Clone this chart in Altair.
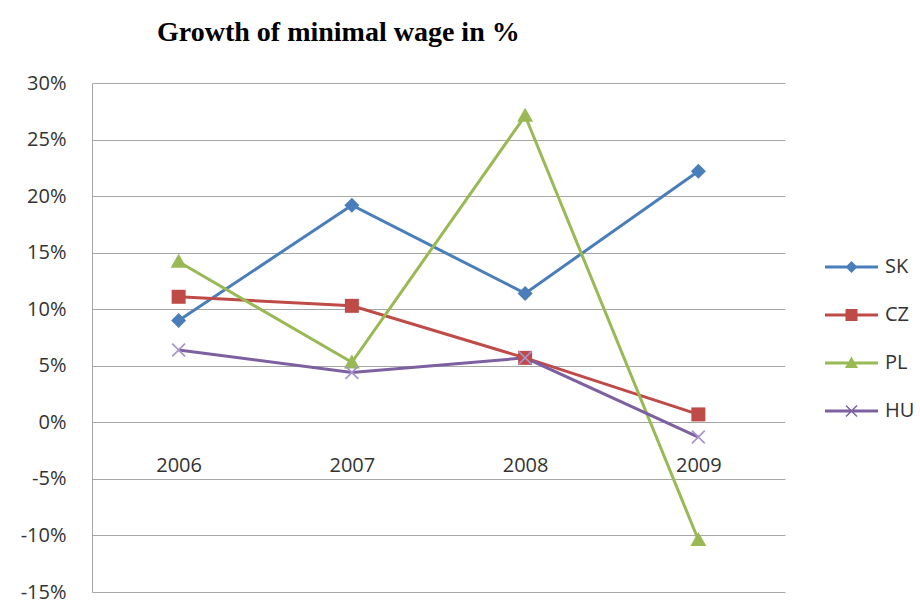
import altair as alt
import pandas as pd

years = ["2006", "2007", "2008", "2009"]
countries = ["SK", "CZ", "PL", "HU"]
sk = [0.090, 0.192, 0.114, 0.222]
cz = [0.111, 0.103, 0.057, 0.007]
pl = [0.142, 0.053, 0.271, -0.104]
hu = [0.064, 0.044, 0.057, -0.013]
y_ticks = [-0.15, -0.10, -0.05, 0.0, 0.05, 0.10, 0.15, 0.20, 0.25, 0.30]

line_colors = ["#4A7EBB", "#BE4B48", "#98B954", "#7D60A0"]
marker_colors = ["#4A7EBB", "#BE4B48", "#98B954", "#A695CC"]

# marker shapes (pixel units, drawn with size=4)
x_shape = "M-7,-5.8L-5.8,-7L0,-1.2L5.8,-7L7,-5.8L1.2,0L7,5.8L5.8,7L0,1.2L-5.8,7L-7,5.8L-1.2,0Z"
marker_shapes = [
    "M-7.5,0L0,-7.5L7.5,0L0,7.5Z",
    "M-7,-7H7V7H-7Z",
    "M0,-8L8,6L-8,6Z",
    x_shape,
]
bar = "M-26.5,-1.5H26.5V1.5H-26.5Z "
legend_shapes = [
    bar + "M-6,0L0,-6L6,0L0,6Z",
    bar + "M-6,-6H6V6H-6Z",
    bar + "M0,-6.5L6.5,5L-6.5,5Z",
    bar + "M-6,-5L-5,-6L0,-1L5,-6L6,-5L1,0L6,5L5,6L0,1L-5,6L-6,5L-1,0Z",
]

series = {"SK": sk, "CZ": cz, "PL": pl, "HU": hu}
rows = []
for c in countries:
    for yr, v in zip(years, series[c]):
        rows.append({"country": c, "year": yr, "value": v})
df = pd.DataFrame(rows)

FONT = "Open Sans"
LABEL_COLOR = "#333333"
GRID = "#A6A6A6"

x_enc = alt.X(
    "year:N",
    sort=years,
    scale=alt.Scale(type="point", padding=0.5),
    axis=alt.Axis(
        title=None, orient="bottom", offset=-170, domain=False, ticks=False,
        grid=False, labelPadding=33, labelAngle=0, labelFont=FONT,
        labelFontSize=20, labelColor=LABEL_COLOR,
    ),
)
y_enc = alt.Y(
    "value:Q",
    scale=alt.Scale(domain=[-0.15, 0.30], nice=False, zero=False),
    axis=alt.Axis(
        title=None, values=y_ticks, labelExpr="round(datum.value*100) + '%'",
        grid=True, gridColor=GRID, gridWidth=1, ticks=False, domain=True,
        domainColor=GRID, domainWidth=1, labelPadding=26, labelFont=FONT,
        labelFontSize=20, labelColor=LABEL_COLOR,
    ),
)

base = alt.Chart(df)

lines = base.mark_line(strokeWidth=3).encode(
    x=x_enc, y=y_enc,
    color=alt.Color("country:N", scale=alt.Scale(domain=countries, range=line_colors), legend=None),
)

points = base.mark_point(filled=True, size=4, opacity=1, strokeWidth=0).encode(
    x=x_enc, y=y_enc,
    color=alt.Color("country:N", scale=alt.Scale(domain=countries, range=marker_colors), legend=None),
    shape=alt.Shape("country:N", scale=alt.Scale(domain=countries, range=marker_shapes), legend=None),
)

leg = alt.Legend(
    title=None, orient="none", legendX=749.5, legendY=174, padding=0,
    rowPadding=28, labelOffset=23.5, labelFont=FONT, labelFontSize=20,
    labelColor=LABEL_COLOR, symbolSize=4, symbolStrokeWidth=0, symbolOpacity=1,
    symbolOffset=0, direction="vertical",
)

legend_layer = base.mark_point(filled=True, size=4, opacity=0, strokeWidth=0).encode(
    x=x_enc, y=y_enc,
    color=alt.Color("country:N", scale=alt.Scale(domain=countries, range=line_colors), legend=leg),
    shape=alt.Shape("country:N", scale=alt.Scale(domain=countries, range=legend_shapes), legend=leg),
)

chart = (
    alt.layer(lines, points, legend_layer)
    .resolve_scale(color="independent", shape="independent")
    .properties(
        width=693,
        height=509,
        title=alt.TitleParams(
            "Growth of minimal wage in %", font="Liberation Serif", fontSize=28,
            fontWeight="bold", color="black", anchor="start", frame="group",
            dx=65, offset=26,
        ),
        autosize=alt.AutoSizeParams(type="none"),
        padding={"left": 92, "top": 83, "right": 135, "bottom": 11},
        background="white",
    )
    .configure_view(strokeWidth=0)
)

chart.save("out.html", embed_options={"renderer": "svg", "actions": False})
